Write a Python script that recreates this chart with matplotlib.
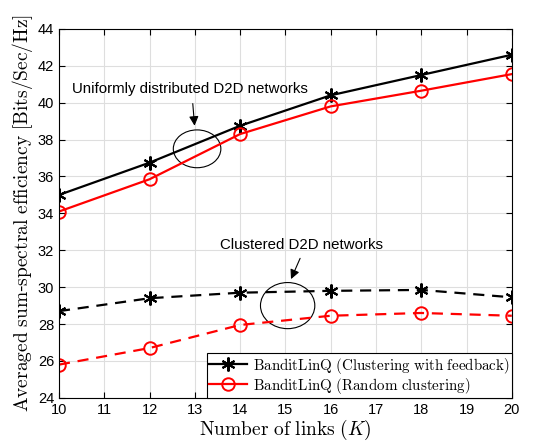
import matplotlib
matplotlib.use("Agg")
import matplotlib.pyplot as plt
from matplotlib.patches import Ellipse

plt.rcParams['mathtext.fontset'] = 'cm'
plt.rcParams['font.family'] = ['Liberation Sans', 'DejaVu Sans']

links = [10, 12, 14, 16, 18, 20]
uniform_feedback = [35.0, 36.75, 38.75, 40.4, 41.5, 42.6]
uniform_random = [34.1, 35.85, 38.3, 39.8, 40.65, 41.55]
clustered_feedback = [28.7, 29.4, 29.7, 29.8, 29.85, 29.45]
clustered_random = [25.8, 26.7, 27.95, 28.45, 28.6, 28.45]

fig = plt.figure(figsize=(5.41, 4.45), dpi=100)
ax = fig.add_axes([0.109, 0.106, 0.837, 0.829])

ax.plot(links, uniform_feedback, '-', color='black', marker=(6, 2, 0), markersize=10,
        markeredgewidth=1.5, lw=1.6, label=r'$\mathrm{BanditLinQ\ (Clustering\ with\ feedback)}$')
ax.plot(links, uniform_random, '-', color='red', marker='o', markersize=9,
        markerfacecolor='none', markeredgewidth=1.4, lw=1.6,
        label=r'$\mathrm{BanditLinQ\ (Random\ clustering)}$')
ax.plot(links, clustered_feedback, '--', color='black', marker=(6, 2, 0), markersize=10,
        markeredgewidth=1.5, lw=1.6, dashes=(5, 3.5))
ax.plot(links, clustered_random, '--', color='red', marker='o', markersize=9,
        markerfacecolor='none', markeredgewidth=1.4, lw=1.6, dashes=(5, 3.5))

# ellipses drawn in data units
ax.add_patch(Ellipse((13.05, 37.5), 1.05, 2.05, fill=False, lw=0.8, color='black'))
ax.add_patch(Ellipse((15.05, 29.0), 1.2, 2.5, fill=False, lw=0.8, color='black'))

ax.annotate('', xy=(13.0, 38.6), xytext=(12.95, 40.1),
            arrowprops=dict(arrowstyle='-|>', color='black', lw=0.8, mutation_scale=14))
ax.annotate('', xy=(15.1, 30.3), xytext=(15.35, 31.7),
            arrowprops=dict(arrowstyle='-|>', color='black', lw=0.8, mutation_scale=14))
ax.text(12.9, 40.72, 'Uniformly distributed D2D networks', ha='center', va='center', fontsize=10.8)
ax.text(15.35, 32.3, 'Clustered D2D networks', ha='center', va='center', fontsize=10.8)

ax.set_xlim(10, 20)
ax.set_ylim(24, 44)
ax.set_xticks(range(10, 21))
ax.set_yticks(range(24, 45, 2))
ax.tick_params(direction='in', top=True, right=True, labelsize=10.5, length=4)
ax.grid(True, color='#dedede', lw=0.8)
ax.set_axisbelow(True)

ax.set_xlabel(r'$\mathrm{Number\ of\ links\ }(K)$', fontsize=14, labelpad=1)
ax.set_ylabel(r'$\mathrm{Averaged\ sum}$-$\mathrm{spectral\ efficiency\ [Bits/Sec/Hz]}$',
              fontsize=14, labelpad=2)

leg = ax.legend(loc='lower right', fontsize=10.8, fancybox=False, edgecolor='black',
                framealpha=1, borderaxespad=0, handlelength=2.5, borderpad=0.15,
                labelspacing=0.0, handletextpad=0.4)
leg.get_frame().set_linewidth(0.8)

plt.savefig('out.png', dpi=100)
plt.close()
